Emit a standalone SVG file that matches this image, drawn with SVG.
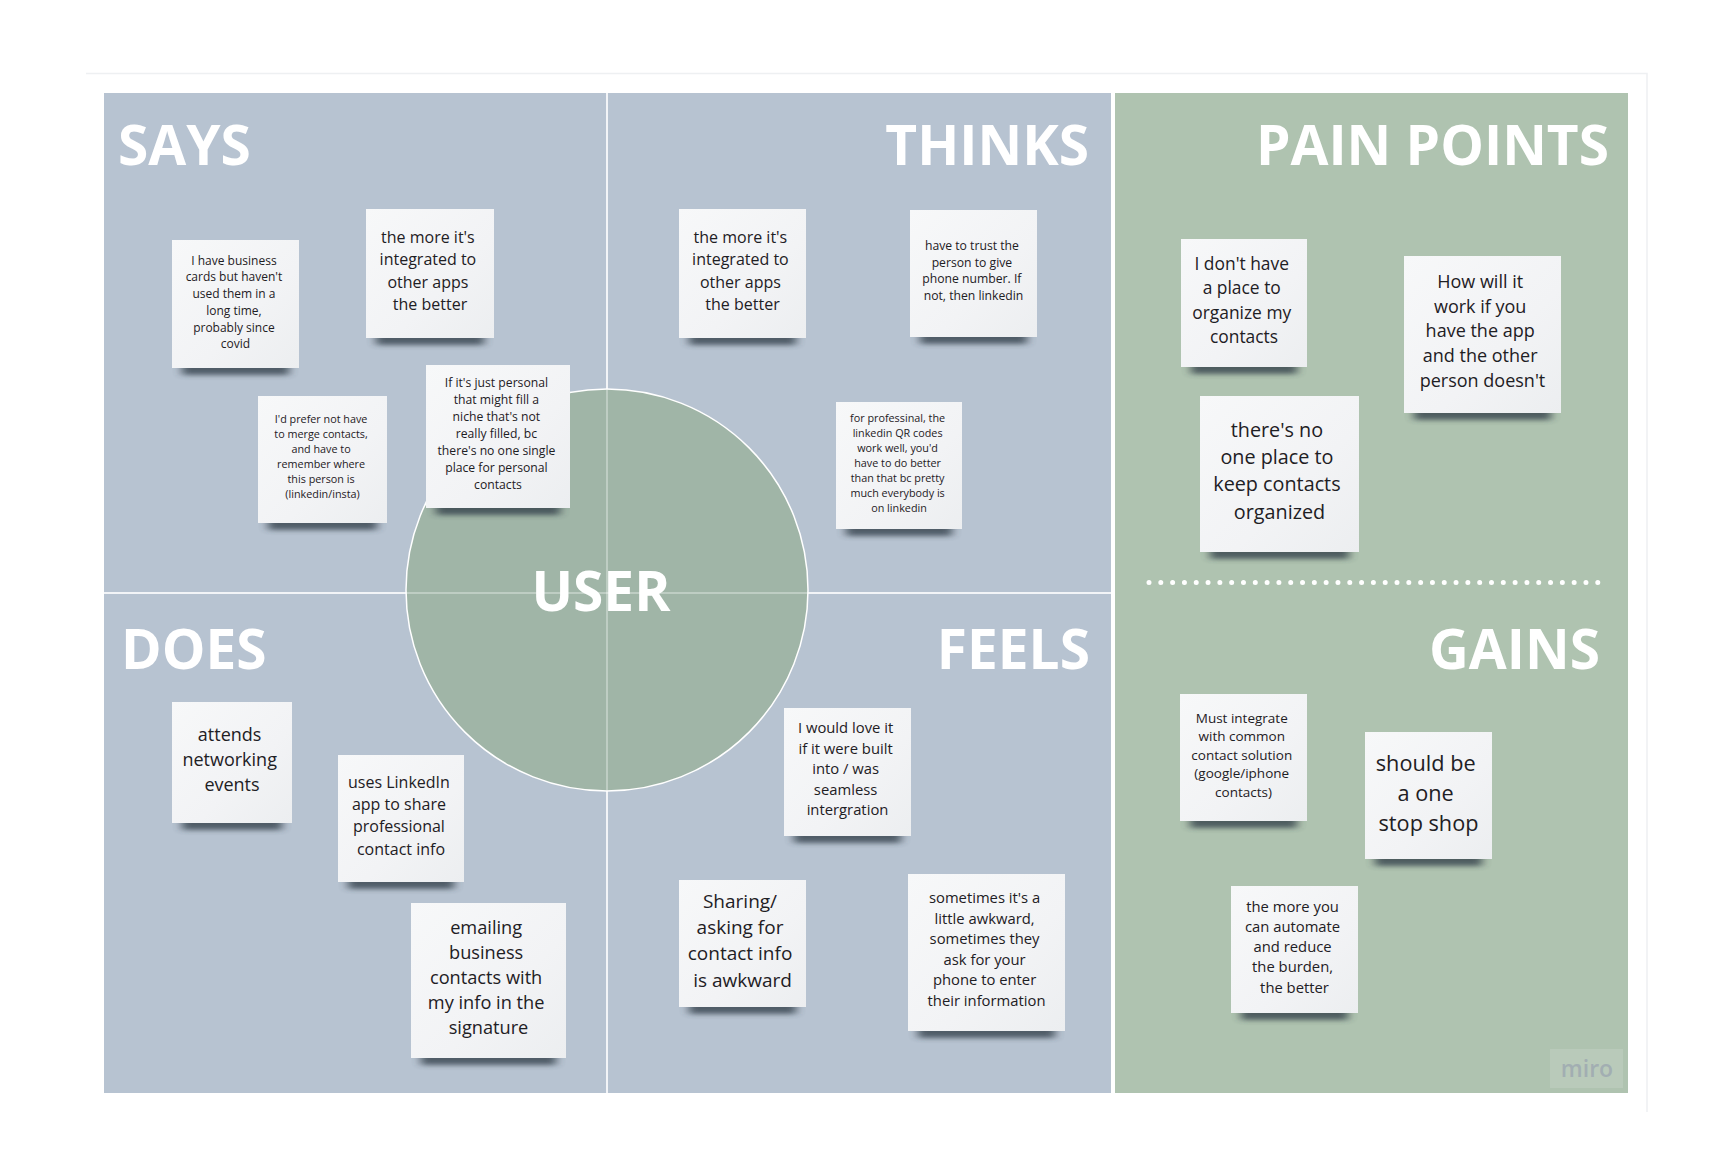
<svg xmlns="http://www.w3.org/2000/svg" width="1714" height="1158" viewBox="0 0 1714 1158">
  <style>
    .title { font-family: "Open Sans", "Liberation Sans", sans-serif; font-weight: 700; font-size: 55px; fill: #ffffff; }
    .nt { font-family: "Open Sans", "Liberation Sans", sans-serif; fill: #1e2024; text-anchor: middle; }
    .paper { fill: url(#paper); }
    .shd { fill: #2f3a44; opacity: 0.75; filter: url(#soft); }
    .grid { stroke: #f2f4f7; stroke-width: 2; }
    .grid-in { stroke: #ffffff; stroke-opacity: 0.32; stroke-width: 2; }
  </style>
  <defs>
    <linearGradient id="paper" x1="0" y1="0" x2="1" y2="1">
      <stop offset="0" stop-color="#f7f8f9"/>
      <stop offset="0.6" stop-color="#f2f3f5"/>
      <stop offset="1" stop-color="#eceef0"/>
    </linearGradient>
    <filter id="soft" x="-20%" y="-100%" width="140%" height="300%">
      <feGaussianBlur stdDeviation="5 2.8"/>
    </filter>
    <clipPath id="userClip">
      <circle cx="607" cy="590" r="201"/>
    </clipPath>
  </defs>

  <rect width="1714" height="1158" fill="#ffffff"/>

  <!-- faint board frame -->
  <path d="M86 73.5 H1647 V1112" fill="none" stroke="#eef0f2" stroke-width="1.5"/>

  <!-- empathy quadrants -->
  <g id="board">
    <rect x="104" y="93" width="1007" height="1000" fill="#b7c3d1"/>
    <line class="grid" x1="607" y1="93" x2="607" y2="1093"/>
    <line class="grid" x1="104" y1="593" x2="1111" y2="593"/>
  </g>

  <!-- pain points / gains column -->
  <g id="side-panel">
    <rect x="1115" y="93" width="513" height="1000" fill="#afc3b0"/>
    <line x1="1149" y1="582.5" x2="1598" y2="582.5" stroke="#ffffff" stroke-width="5" stroke-linecap="round" stroke-dasharray="0 11.81"/>
  </g>

  <!-- user circle -->
  <g id="user">
    <circle cx="607" cy="590" r="201" fill="#a0b5a7" stroke="#ffffff" stroke-width="1.5"/>
    <g clip-path="url(#userClip)">
      <line class="grid-in" x1="607" y1="380" x2="607" y2="800"/>
      <line class="grid-in" x1="400" y1="593" x2="815" y2="593"/>
    </g>
    <text class="title" x="601" y="611" text-anchor="middle">USER</text>
  </g>

  <!-- section headings -->
  <g id="titles">
    <text class="title" x="118" y="165">SAYS</text>
    <text class="title" x="1089" y="165" text-anchor="end">THINKS</text>
    <text class="title" x="1609" y="165" text-anchor="end">PAIN POINTS</text>
    <text class="title" x="121" y="669">DOES</text>
    <text class="title" x="1090" y="669" text-anchor="end">FEELS</text>
    <text class="title" x="1600" y="669" text-anchor="end">GAINS</text>
  </g>

  <!-- SAYS notes -->
  <g id="says-1">
    <rect class="shd" x="182" y="361" width="107" height="14"/>
    <rect class="paper" x="172" y="240" width="127" height="128"/>
    <text class="nt" font-size="12">
      <tspan x="235.5" y="264.7">I have business</tspan>
      <tspan x="235.5" y="281.4">cards but haven't</tspan>
      <tspan x="235.5" y="298.1">used them in a</tspan>
      <tspan x="235.5" y="314.8">long time,</tspan>
      <tspan x="235.5" y="331.5">probably since</tspan>
      <tspan x="235.5" y="348.2">covid</tspan>
    </text>
  </g>
  <g id="says-2">
    <rect class="shd" x="376" y="331" width="108" height="14"/>
    <rect class="paper" x="366" y="209" width="128" height="129"/>
    <text class="nt" font-size="16">
      <tspan x="430" y="243">the more it's</tspan>
      <tspan x="430" y="265.4">integrated to</tspan>
      <tspan x="430" y="287.8">other apps</tspan>
      <tspan x="430" y="310.2">the better</tspan>
    </text>
  </g>
  <g id="says-3">
    <rect class="shd" x="268" y="516" width="109" height="14"/>
    <rect class="paper" x="258" y="396" width="129" height="127"/>
    <text class="nt" font-size="10.8">
      <tspan x="322.5" y="423.1">I'd prefer not have</tspan>
      <tspan x="322.5" y="438.1">to merge contacts,</tspan>
      <tspan x="322.5" y="453.1">and have to</tspan>
      <tspan x="322.5" y="468.1">remember where</tspan>
      <tspan x="322.5" y="483.1">this person is</tspan>
      <tspan x="322.5" y="498.1">(linkedin/insta)</tspan>
    </text>
  </g>
  <g id="says-4">
    <rect class="shd" x="436" y="501" width="124" height="14"/>
    <rect class="paper" x="426" y="365" width="144" height="143"/>
    <text class="nt" font-size="12.2">
      <tspan x="498" y="387.3">If it's just personal</tspan>
      <tspan x="498" y="404.2">that might fill a</tspan>
      <tspan x="498" y="421.1">niche that's not</tspan>
      <tspan x="498" y="438">really filled, bc</tspan>
      <tspan x="498" y="454.9">there's no one single</tspan>
      <tspan x="498" y="471.8">place for personal</tspan>
      <tspan x="498" y="488.7">contacts</tspan>
    </text>
  </g>

  <!-- THINKS notes -->
  <g id="thinks-1">
    <rect class="shd" x="689" y="331" width="107" height="14"/>
    <rect class="paper" x="679" y="209" width="127" height="129"/>
    <text class="nt" font-size="16">
      <tspan x="742.5" y="243">the more it's</tspan>
      <tspan x="742.5" y="265.4">integrated to</tspan>
      <tspan x="742.5" y="287.8">other apps</tspan>
      <tspan x="742.5" y="310.2">the better</tspan>
    </text>
  </g>
  <g id="thinks-2">
    <rect class="shd" x="920" y="330" width="107" height="14"/>
    <rect class="paper" x="910" y="210" width="127" height="127"/>
    <text class="nt" font-size="12.2">
      <tspan x="973.5" y="249.8">have to trust the</tspan>
      <tspan x="973.5" y="266.6">person to give</tspan>
      <tspan x="973.5" y="283.4">phone number. If</tspan>
      <tspan x="973.5" y="300.2">not, then linkedin</tspan>
    </text>
  </g>
  <g id="thinks-3">
    <rect class="shd" x="846" y="522" width="106" height="14"/>
    <rect class="paper" x="836" y="402" width="126" height="127"/>
    <text class="nt" font-size="10.8">
      <tspan x="899" y="421.6">for professinal, the</tspan>
      <tspan x="899" y="436.6">linkedin QR codes</tspan>
      <tspan x="899" y="451.6">work well, you'd</tspan>
      <tspan x="899" y="466.6">have to do better</tspan>
      <tspan x="899" y="481.6">than that bc pretty</tspan>
      <tspan x="899" y="496.6">much everybody is</tspan>
      <tspan x="899" y="511.6">on linkedin</tspan>
    </text>
  </g>

  <!-- PAIN POINTS notes -->
  <g id="pain-1">
    <rect class="shd" x="1191" y="360" width="106" height="14"/>
    <rect class="paper" x="1181" y="239" width="126" height="128"/>
    <text class="nt" font-size="17.4">
      <tspan x="1244" y="269.5">I don't have</tspan>
      <tspan x="1244" y="294">a place to</tspan>
      <tspan x="1244" y="318.5">organize my</tspan>
      <tspan x="1244" y="343">contacts</tspan>
    </text>
  </g>
  <g id="pain-2">
    <rect class="shd" x="1414" y="406" width="137" height="14"/>
    <rect class="paper" x="1404" y="256" width="157" height="157"/>
    <text class="nt" font-size="18">
      <tspan x="1482.5" y="287.8">How will it</tspan>
      <tspan x="1482.5" y="312.6">work if you</tspan>
      <tspan x="1482.5" y="337.4">have the app</tspan>
      <tspan x="1482.5" y="362.2">and the other</tspan>
      <tspan x="1482.5" y="387">person doesn't</tspan>
    </text>
  </g>
  <g id="pain-3">
    <rect class="shd" x="1210" y="545" width="139" height="14"/>
    <rect class="paper" x="1200" y="396" width="159" height="156"/>
    <text class="nt" font-size="19.8">
      <tspan x="1279.5" y="436.8">there's no</tspan>
      <tspan x="1279.5" y="464.1">one place to</tspan>
      <tspan x="1279.5" y="491.4">keep contacts</tspan>
      <tspan x="1279.5" y="518.7">organized</tspan>
    </text>
  </g>

  <!-- DOES notes -->
  <g id="does-1">
    <rect class="shd" x="182" y="816" width="100" height="14"/>
    <rect class="paper" x="172" y="702" width="120" height="121"/>
    <text class="nt" font-size="18">
      <tspan x="232" y="740.9">attends</tspan>
      <tspan x="232" y="765.9">networking</tspan>
      <tspan x="232" y="790.9">events</tspan>
    </text>
  </g>
  <g id="does-2">
    <rect class="shd" x="348" y="875" width="106" height="14"/>
    <rect class="paper" x="338" y="755" width="126" height="127"/>
    <text class="nt" font-size="16">
      <tspan x="401" y="788">uses LinkedIn</tspan>
      <tspan x="401" y="810.2">app to share</tspan>
      <tspan x="401" y="832.4">professional</tspan>
      <tspan x="401" y="854.6">contact info</tspan>
    </text>
  </g>
  <g id="does-3">
    <rect class="shd" x="421" y="1051" width="135" height="14"/>
    <rect class="paper" x="411" y="903" width="155" height="155"/>
    <text class="nt" font-size="18.2">
      <tspan x="488.5" y="934.2">emailing</tspan>
      <tspan x="488.5" y="959.1">business</tspan>
      <tspan x="488.5" y="984">contacts with</tspan>
      <tspan x="488.5" y="1008.9">my info in the</tspan>
      <tspan x="488.5" y="1033.8">signature</tspan>
    </text>
  </g>

  <!-- FEELS notes -->
  <g id="feels-1">
    <rect class="shd" x="794" y="829" width="107" height="14"/>
    <rect class="paper" x="784" y="708" width="127" height="128"/>
    <text class="nt" font-size="14.8">
      <tspan x="847.5" y="733.4">I would love it</tspan>
      <tspan x="847.5" y="753.9">if it were built</tspan>
      <tspan x="847.5" y="774.4">into / was</tspan>
      <tspan x="847.5" y="794.9">seamless</tspan>
      <tspan x="847.5" y="815.4">intergration</tspan>
    </text>
  </g>
  <g id="feels-2">
    <rect class="shd" x="689" y="1000" width="107" height="14"/>
    <rect class="paper" x="679" y="880" width="127" height="127"/>
    <text class="nt" font-size="19">
      <tspan x="742.5" y="908">Sharing/</tspan>
      <tspan x="742.5" y="934.2">asking for</tspan>
      <tspan x="742.5" y="960.4">contact info</tspan>
      <tspan x="742.5" y="986.6">is awkward</tspan>
    </text>
  </g>
  <g id="feels-3">
    <rect class="shd" x="918" y="1024" width="137" height="14"/>
    <rect class="paper" x="908" y="874" width="157" height="157"/>
    <text class="nt" font-size="14.8">
      <tspan x="986.5" y="903.3">sometimes it's a</tspan>
      <tspan x="986.5" y="923.8">little awkward,</tspan>
      <tspan x="986.5" y="944.3">sometimes they</tspan>
      <tspan x="986.5" y="964.8">ask for your</tspan>
      <tspan x="986.5" y="985.3">phone to enter</tspan>
      <tspan x="986.5" y="1005.8">their information</tspan>
    </text>
  </g>

  <!-- GAINS notes -->
  <g id="gains-1">
    <rect class="shd" x="1190" y="814" width="107" height="14"/>
    <rect class="paper" x="1180" y="694" width="127" height="127"/>
    <text class="nt" font-size="13.5">
      <tspan x="1243.5" y="722.5">Must integrate</tspan>
      <tspan x="1243.5" y="741.1">with common</tspan>
      <tspan x="1243.5" y="759.7">contact solution</tspan>
      <tspan x="1243.5" y="778.3">(google/iphone</tspan>
      <tspan x="1243.5" y="796.9">contacts)</tspan>
    </text>
  </g>
  <g id="gains-2">
    <rect class="shd" x="1375" y="852" width="107" height="14"/>
    <rect class="paper" x="1365" y="732" width="127" height="127"/>
    <text class="nt" font-size="21.7">
      <tspan x="1428.5" y="770.5">should be</tspan>
      <tspan x="1428.5" y="800.5">a one</tspan>
      <tspan x="1428.5" y="830.5">stop shop</tspan>
    </text>
  </g>
  <g id="gains-3">
    <rect class="shd" x="1241" y="1006" width="107" height="14"/>
    <rect class="paper" x="1231" y="886" width="127" height="127"/>
    <text class="nt" font-size="14.8">
      <tspan x="1294.5" y="911.8">the more you</tspan>
      <tspan x="1294.5" y="932">can automate</tspan>
      <tspan x="1294.5" y="952.2">and reduce</tspan>
      <tspan x="1294.5" y="972.4">the burden,</tspan>
      <tspan x="1294.5" y="992.6">the better</tspan>
    </text>
  </g>

  <!-- board watermark -->
  <g id="watermark">
    <rect x="1550" y="1049" width="73" height="39" fill="#ffffff" fill-opacity="0.13"/>
    <text x="1587" y="1077" text-anchor="middle" font-family="'Open Sans', 'Liberation Sans', sans-serif" font-weight="600" font-size="23" fill="#a2aeb2">miro</text>
  </g>
</svg>
